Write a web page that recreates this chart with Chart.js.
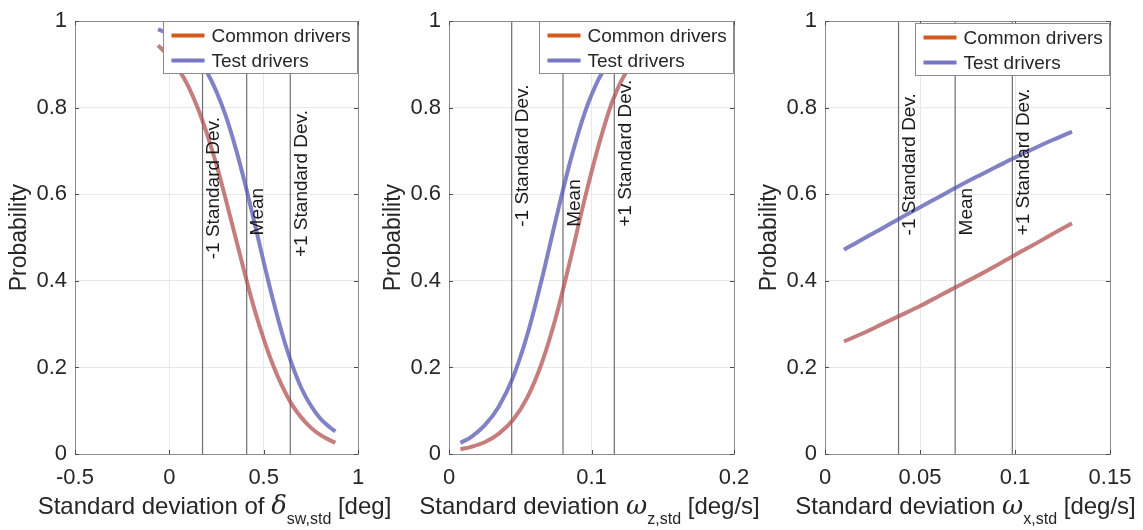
<!DOCTYPE html>
<html>
<head>
<meta charset="utf-8">
<script src="https://cdn.jsdelivr.net/npm/chart.js@4.4.1/dist/chart.umd.min.js"></script>
<style>
  html, body { margin: 0; padding: 0; background: #fff; }
  #wrap { position: relative; width: 1143px; height: 530px; }
  #wrap canvas { position: absolute; left: 0; top: 0; }
</style>
</head>
<body>
<div id="wrap">
  <canvas id="c1" width="1143" height="530"></canvas>
  <canvas id="c2" width="1143" height="530"></canvas>
  <canvas id="c3" width="1143" height="530"></canvas>
</div>
<script>
// ---- data ----
const seriesNames = ['Common drivers', 'Test drivers'];
const yTicks = [0, 0.2, 0.4, 0.6, 0.8, 1];
const sdLabels = ['-1 Standard Dev.', 'Mean', '+1 Standard Dev.'];

// panel 1: steering wheel angle
const p1X = [-0.06, 0, 0.05, 0.1, 0.15, 0.2, 0.25, 0.3, 0.35, 0.4, 0.45, 0.5, 0.55, 0.6, 0.65, 0.7, 0.75, 0.8, 0.85, 0.88];
const p1Common = [0.944, 0.918, 0.888, 0.850, 0.800, 0.739, 0.668, 0.587, 0.502, 0.417, 0.336, 0.266, 0.205, 0.155, 0.114, 0.084, 0.061, 0.044, 0.032, 0.026];
const p1Test = [0.981, 0.971, 0.958, 0.940, 0.916, 0.882, 0.837, 0.780, 0.709, 0.627, 0.537, 0.444, 0.355, 0.275, 0.207, 0.152, 0.112, 0.082, 0.062, 0.052];
const p1XTicks = [-0.5, 0, 0.5, 1];
const p1Lines = [0.176, 0.41, 0.641];
const p1LabelY = [0.45, 0.505, 0.455];

// panel 2: yaw rate
const p2X = [0.008, 0.015, 0.025, 0.035, 0.045, 0.055, 0.065, 0.075, 0.085, 0.095, 0.105, 0.115, 0.125, 0.13];
const p2Common = [0.011, 0.016, 0.027, 0.047, 0.079, 0.131, 0.209, 0.316, 0.447, 0.586, 0.713, 0.818, 0.887, 0.91];
const p2Test = [0.026, 0.038, 0.066, 0.110, 0.178, 0.276, 0.402, 0.542, 0.675, 0.786, 0.866, 0.919, 0.952, 0.963];
const p2XTicks = [0, 0.1, 0.2];
const p2Lines = [0.044, 0.080, 0.116];
const p2LabelY = [0.525, 0.525, 0.525];

// panel 3: roll rate
const p3X = [0.01, 0.02, 0.03, 0.04, 0.05, 0.06, 0.07, 0.08, 0.09, 0.1, 0.11, 0.12, 0.13];
const p3Common = [0.260, 0.279, 0.300, 0.321, 0.342, 0.365, 0.388, 0.411, 0.435, 0.460, 0.484, 0.509, 0.533];
const p3Test = [0.472, 0.497, 0.521, 0.546, 0.570, 0.594, 0.618, 0.641, 0.663, 0.685, 0.706, 0.726, 0.745];
const p3XTicks = [0, 0.05, 0.1, 0.15];
const p3Lines = [0.0387, 0.0685, 0.0986];
const p3LabelY = [0.505, 0.505, 0.505];

// ---- look ----
const FONT = "'Liberation Sans', Arial, Helvetica, sans-serif";
const TEXT = '#262626';
const W = 1143, H = 530;
const Y_W = 60, X_H = 40;
const commonLine = 'rgba(176, 75, 75, 0.72)';
const testLine = 'rgba(81, 81, 175, 0.72)';
const legendColors = ['#d35a1c', '#7676c4'];

function pts(xs, ys) { return xs.map((x, i) => ({ x: x, y: ys[i] })); }

function makePanel(id, p) {
  const datasets = [
    { data: pts(p.x, p.common), borderColor: commonLine, borderWidth: 4, pointRadius: 0, cubicInterpolationMode: 'monotone', fill: false },
    { data: pts(p.x, p.test), borderColor: testLine, borderWidth: 4, pointRadius: 0, cubicInterpolationMode: 'monotone', fill: false }
  ];
  p.lines.forEach(v => {
    datasets.push({ data: [{ x: v, y: 0 }, { x: v, y: 1 }], borderColor: '#6f6f6f', borderWidth: 1.2, pointRadius: 0, fill: false });
  });

  const panelPlugin = {
    id: 'panel' + id,
    afterDatasetsDraw(chart) {
      const ctx = chart.ctx;
      const a = chart.chartArea;
      const xs = chart.scales.x, ys = chart.scales.y;
      ctx.save();

      // axes box + small inward ticks
      ctx.strokeStyle = '#8c8c8c';
      ctx.lineWidth = 1;
      ctx.strokeRect(Math.round(a.left) + 0.5, Math.round(a.top) + 0.5, Math.round(a.right - a.left), Math.round(a.bottom - a.top));
      ctx.strokeStyle = '#4d4d4d';
      ctx.beginPath();
      p.xTicks.forEach(v => {
        const px = Math.round(xs.getPixelForValue(v)) + 0.5;
        ctx.moveTo(px, a.bottom); ctx.lineTo(px, a.bottom - 4);
        ctx.moveTo(px, a.top); ctx.lineTo(px, a.top + 4);
      });
      yTicks.forEach(v => {
        const py = Math.round(ys.getPixelForValue(v)) + 0.5;
        ctx.moveTo(a.left, py); ctx.lineTo(a.left + 4, py);
        ctx.moveTo(a.right, py); ctx.lineTo(a.right - 4, py);
      });
      ctx.stroke();

      // vertical line labels
      ctx.fillStyle = '#1a1a1a';
      ctx.font = '19px ' + FONT;
      ctx.textAlign = 'left';
      ctx.textBaseline = 'top';
      p.lines.forEach((v, i) => {
        ctx.save();
        ctx.translate(xs.getPixelForValue(v) + 2, ys.getPixelForValue(p.labelY[i]));
        ctx.rotate(-Math.PI / 2);
        ctx.fillText(sdLabels[i], 0, 0);
        ctx.restore();
      });

      // legend box
      const lw = 194, lh = 52;
      const lx = Math.round(a.right - lw - 1) + 0.5, ly = Math.round(a.top + p.legendTop) + 0.5;
      ctx.fillStyle = '#fff';
      ctx.fillRect(lx, ly, lw, lh);
      ctx.strokeStyle = '#8c8c8c';
      ctx.lineWidth = 1;
      ctx.strokeRect(lx, ly, lw, lh);
      ctx.font = '19px ' + FONT;
      ctx.textBaseline = 'middle';
      seriesNames.forEach((name, i) => {
        const cy = ly + 14 + i * 25;
        ctx.strokeStyle = legendColors[i];
        ctx.lineWidth = 4;
        ctx.beginPath();
        ctx.moveTo(lx + 8, cy); ctx.lineTo(lx + 41, cy);
        ctx.stroke();
        ctx.fillStyle = TEXT;
        ctx.fillText(name, lx + 48, cy + 1);
      });

      // y title
      ctx.save();
      ctx.translate(a.left - 55, (a.top + a.bottom) / 2);
      ctx.rotate(-Math.PI / 2);
      ctx.font = '23px ' + FONT;
      ctx.textAlign = 'center';
      ctx.textBaseline = 'middle';
      ctx.fillStyle = TEXT;
      ctx.fillText('Probability', 0, 0);
      ctx.restore();

      // x title with greek symbol and subscript
      const segs = p.xTitle;
      ctx.textAlign = 'left';
      ctx.textBaseline = 'alphabetic';
      let total = 0;
      segs.forEach(s => { ctx.font = s.font; s.w = ctx.measureText(s.t).width; total += s.w; });
      let cx = (a.left + a.right) / 2 - 2 - total / 2;
      ctx.fillStyle = TEXT;
      segs.forEach(s => {
        ctx.font = s.font;
        ctx.fillText(s.t, cx, 514 + (s.dy || 0));
        cx += s.w;
      });
      ctx.restore();
    }
  };

  return new Chart(document.getElementById(id), {
    type: 'line',
    data: { datasets: datasets },
    options: {
      responsive: false,
      animation: false,
      events: [],
      layout: { padding: { left: p.left - Y_W, right: W - p.right, top: 17, bottom: H - 454 - X_H } },
      plugins: { legend: { display: false }, tooltip: { enabled: false } },
      scales: {
        x: {
          type: 'linear', min: p.xTicks[0], max: p.xTicks[p.xTicks.length - 1],
          afterBuildTicks: s => { s.ticks = p.xTicks.map(v => ({ value: v })); },
          afterFit: s => { s.height = X_H; },
          ticks: { padding: 11, autoSkip: false, maxRotation: 0, color: TEXT, font: { family: FONT, size: 22 }, callback: v => String(v) },
          grid: { color: '#e8e8e8', drawTicks: false },
          border: { display: false }
        },
        y: {
          type: 'linear', min: 0, max: 1,
          afterBuildTicks: s => { s.ticks = yTicks.map(v => ({ value: v })); },
          afterFit: s => { s.width = Y_W; },
          ticks: { padding: 8, color: TEXT, font: { family: FONT, size: 22 }, callback: v => String(v) },
          grid: { color: '#e8e8e8', drawTicks: false },
          border: { display: false }
        }
      }
    },
    plugins: [panelPlugin]
  });
}

const titleFont = '24px ' + FONT;
const greekFont = "italic 26px 'DejaVu Serif', serif";
const subFont = '16px ' + FONT;

makePanel('c1', {
  x: p1X, common: p1Common, test: p1Test, xTicks: p1XTicks, lines: p1Lines, labelY: p1LabelY,
  left: 75, right: 358, legendTop: 0,
  xTitle: [
    { t: 'Standard deviation of ', font: titleFont },
    { t: 'δ', font: greekFont },
    { t: 'sw,std', font: subFont, dy: 10 },
    { t: ' [deg]', font: titleFont }
  ]
});
makePanel('c2', {
  x: p2X, common: p2Common, test: p2Test, xTicks: p2XTicks, lines: p2Lines, labelY: p2LabelY,
  left: 449, right: 734, legendTop: 0,
  xTitle: [
    { t: 'Standard deviation ', font: titleFont },
    { t: 'ω', font: greekFont },
    { t: 'z,std', font: subFont, dy: 10 },
    { t: ' [deg/s]', font: titleFont }
  ]
});
makePanel('c3', {
  x: p3X, common: p3Common, test: p3Test, xTicks: p3XTicks, lines: p3Lines, labelY: p3LabelY,
  left: 825, right: 1110, legendTop: 2,
  xTitle: [
    { t: 'Standard deviation ', font: titleFont },
    { t: 'ω', font: greekFont },
    { t: 'x,std', font: subFont, dy: 10 },
    { t: ' [deg/s]', font: titleFont }
  ]
});
</script>
</body>
</html>
